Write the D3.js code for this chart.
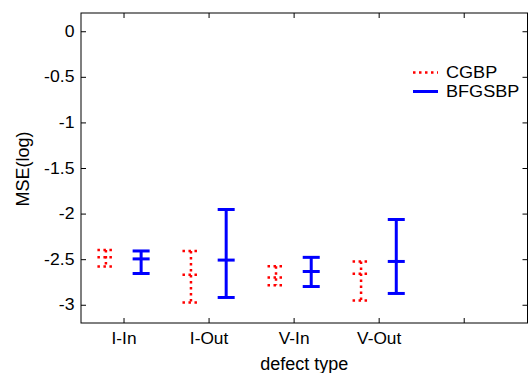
<!DOCTYPE html>
<html><head><meta charset="utf-8">
<script src="https://cdn.jsdelivr.net/npm/d3@7"></script>
<style>
html,body{margin:0;padding:0;background:#fff;}
text{font-family:"Liberation Sans",Arial,sans-serif;fill:#000;}
</style></head>
<body><svg id="c" width="529" height="373"></svg>
<script>
const categories = ["I-In","I-Out","V-In","V-Out"];
const xTicks = [1,2,3,4,5];
const yTicks = [0,-0.5,-1,-1.5,-2,-2.5,-3];
const seriesNames = ["CGBP","BFGSBP"];
const cgbpMean = [-2.48,-2.67,-2.70,-2.66];
const cgbpLow  = [-2.58,-2.975,-2.785,-2.953];
const cgbpHigh = [-2.40,-2.41,-2.577,-2.525];
const bfgsMean = [-2.497,-2.51,-2.635,-2.525];
const bfgsLow  = [-2.657,-2.92,-2.80,-2.876];
const bfgsHigh = [-2.41,-1.955,-2.48,-2.065];

const L=81,R=527.5,T=13,B=323;
const svg=d3.select("#c");
const x=d3.scaleLinear().domain([0.5,5.75]).range([L,R]);
const y=d3.scaleLinear().domain([-3.2,0.2]).range([B,T]);

svg.append("rect").attr("x",L).attr("y",T).attr("width",R-L).attr("height",B-T)
  .attr("fill","none").attr("stroke","#000").attr("stroke-width",1);

const yAx=svg.append("g").attr("transform",`translate(${L},0)`)
  .call(d3.axisLeft(y).tickValues(yTicks).tickSize(-5).tickPadding(6).tickFormat(d=>String(d)));
yAx.select(".domain").remove();
yAx.selectAll("text").style("font-size","16px").attr("transform","scale(1.1,1)");
svg.append("g").attr("transform",`translate(${R},0)`)
  .call(d3.axisRight(y).tickValues(yTicks).tickSize(-5).tickFormat(""))
  .select(".domain").remove();

const xAx=svg.append("g").attr("transform",`translate(0,${B})`)
  .call(d3.axisBottom(x).tickValues(xTicks).tickSize(-5).tickPadding(10)
    .tickFormat((d,i)=>categories[i]||""));
xAx.select(".domain").remove();
xAx.selectAll("text").style("font-size","16px").attr("transform","scale(1.08,1)");
svg.append("g").attr("transform",`translate(0,${T})`)
  .call(d3.axisTop(x).tickValues(xTicks).tickSize(-5).tickFormat(""))
  .select(".domain").remove();
svg.selectAll(".tick line").attr("stroke","#000");

svg.append("text").attr("x",(L+R)/2).attr("y",369.5).attr("text-anchor","middle")
  .style("font-size","18px").text("defect type");
svg.append("text").attr("transform",`translate(29,169) rotate(-90)`).attr("text-anchor","middle")
  .style("font-size","18px").text("MSE(log)");

const off=[-0.207,0.207];
const capW=0.1;
const styles=[{color:"#ff0000",dash:"2.5,3.5",w:2.5},{color:"#0000ff",dash:null,w:3}];
const series=[[cgbpMean,cgbpLow,cgbpHigh],[bfgsMean,bfgsLow,bfgsHigh]];
series.forEach((s,si)=>{
  const st=styles[si];
  const g=svg.append("g").attr("stroke",st.color).attr("stroke-width",st.w).attr("fill","none");
  if(st.dash) g.attr("stroke-dasharray",st.dash);
  categories.forEach((c,i)=>{
    const cx=xTicks[i]+off[si];
    const [m,lo,hi]=[s[0][i],s[1][i],s[2][i]];
    g.append("line").attr("x1",x(cx)).attr("x2",x(cx)).attr("y1",y(hi)).attr("y2",y(lo));
    [hi,m,lo].forEach(v=>{
      g.append("line").attr("x1",x(cx-capW)).attr("x2",x(cx+capW)).attr("y1",y(v)).attr("y2",y(v));
    });
  });
});

const lg=svg.append("g");
seriesNames.forEach((n,i)=>{
  const yy=72.5+i*19;
  const st=styles[i];
  const ln=lg.append("line").attr("x1",413).attr("x2",438).attr("y1",yy).attr("y2",yy)
    .attr("stroke",st.color).attr("stroke-width",st.w);
  if(st.dash) ln.attr("stroke-dasharray",st.dash);
  lg.append("text").attr("transform",`translate(446,${yy}) scale(1.13,1)`).attr("dy","0.35em")
    .style("font-size","16px").text(n);
});
</script></body></html>
